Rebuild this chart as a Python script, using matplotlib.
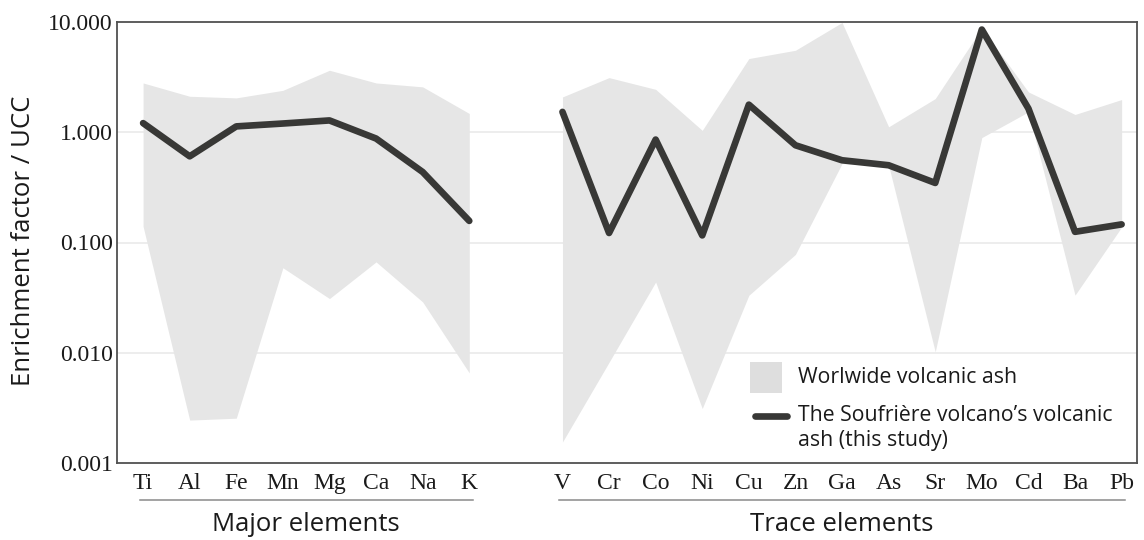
import numpy as np
import matplotlib
matplotlib.use('Agg')
import matplotlib.pyplot as plt
from matplotlib.patches import Rectangle

# element names, two groups
major_elements = ['Ti', 'Al', 'Fe', 'Mn', 'Mg', 'Ca', 'Na', 'K']
trace_elements = ['V', 'Cr', 'Co', 'Ni', 'Cu', 'Zn', 'Ga', 'As', 'Sr', 'Mo', 'Cd', 'Ba', 'Pb']

# enrichment factor of the Soufriere ash (this study)
soufriere_major = [1.21, 0.605, 1.13, 1.20, 1.28, 0.877, 0.436, 0.157]
soufriere_trace = [1.53, 0.122, 0.858, 0.116, 1.78, 0.762, 0.557, 0.502, 0.347, 8.54, 1.64, 0.125, 0.146]

# range of worldwide volcanic ash
ash_min_major = [0.14, 0.00245, 0.00255, 0.059, 0.031, 0.0667, 0.0289, 0.00656]
ash_max_major = [2.80, 2.12, 2.05, 2.40, 3.65, 2.80, 2.58, 1.48]
ash_min_trace = [0.00155, 0.0082, 0.0438, 0.00312, 0.0332, 0.078, 0.52, 0.50, 0.0102, 0.895, 1.53, 0.0333, 0.138]
ash_max_trace = [2.09, 3.13, 2.45, 1.04, 4.66, 5.54, 9.9, 1.12, 2.02, 8.8, 2.32, 1.45, 1.98]

band_color = '#e6e6e6'
line_color = '#383836'
sans = ['Open Sans', 'DejaVu Sans']
serif = ['Liberation Serif', 'DejaVu Serif']

# x positions: one empty slot between the groups
x_major = np.arange(len(major_elements))
x_trace = np.arange(len(trace_elements)) + len(major_elements) + 1

fig = plt.figure(figsize=(11.44, 5.40), dpi=100)
ax = fig.add_axes([117 / 1144, 1 - 463 / 540, 1020 / 1144, 441 / 540])

ax.fill_between(x_major, ash_min_major, ash_max_major, color=band_color, lw=0, zorder=1)
ax.fill_between(x_trace, ash_min_trace, ash_max_trace, color=band_color, lw=0, zorder=1)
ax.plot(x_major, soufriere_major, color=line_color, lw=4.8, solid_capstyle='round',
        solid_joinstyle='round', zorder=3)
ax.plot(x_trace, soufriere_trace, color=line_color, lw=4.8, solid_capstyle='round',
        solid_joinstyle='round', zorder=3)

ax.set_yscale('log')
ax.set_ylim(0.001, 10)
ax.set_xlim(-0.56, 21.33)
yticks = [0.001, 0.01, 0.1, 1, 10]
ax.set_yticks(yticks)
ax.set_yticklabels(['%.3f' % v for v in yticks], fontfamily=serif, fontsize=17)
ax.minorticks_off()
ax.set_xticks(list(x_major) + list(x_trace))
ax.set_xticklabels(major_elements + trace_elements, fontfamily=serif, fontsize=17)
ax.tick_params(axis='y', length=0, pad=3, colors='#1a1a1a')
ax.tick_params(axis='x', length=0, pad=7, colors='#1a1a1a')

for v in [0.01, 0.1, 1]:
    ax.axhline(v, color='#e8e8e8', lw=1.1, zorder=0.5)

for s in ax.spines.values():
    s.set_color('#505050')
    s.set_linewidth(1.3)

fig.text(24 / 1144, 1 - 241 / 540, 'Enrichment factor / UCC', rotation=90,
         ha='center', va='center', fontsize=18.5, fontfamily=sans, color='#1a1a1a')

# group underlines and names
trans = ax.get_xaxis_transform()
for xs, name in [(x_major, 'Major elements'), (x_trace, 'Trace elements')]:
    ax.plot([xs[0] - 0.07, xs[-1] + 0.07], [-0.084, -0.084], transform=trans,
            color='#8a8a8a', lw=1.1, clip_on=False)
    ax.text((xs[0] + xs[-1]) / 2, -0.154, name, transform=trans, ha='center',
            va='baseline', fontsize=18.5, fontfamily=sans, color='#1a1a1a')

# legend
ax.add_patch(Rectangle((0.6206, 0.1587), 0.0314, 0.0703, transform=ax.transAxes,
                       facecolor='#dedede', edgecolor='none', zorder=4))
ax.text(0.6676, 0.195, 'Worlwide volcanic ash', transform=ax.transAxes, ha='left',
        va='center', fontsize=15.3, fontfamily=sans, color='#1a1a1a', zorder=4)
ax.plot([0.6255, 0.657], [0.1066, 0.1066], transform=ax.transAxes, color=line_color,
        lw=4.8, solid_capstyle='round', zorder=4)
ax.text(0.6676, 0.0794, 'The Soufrière volcano’s volcanic\nash (this study)',
        transform=ax.transAxes, ha='left', va='center', fontsize=15.3, linespacing=1.22,
        fontfamily=sans, color='#1a1a1a', zorder=4)

fig.savefig('out.png', dpi=100)
